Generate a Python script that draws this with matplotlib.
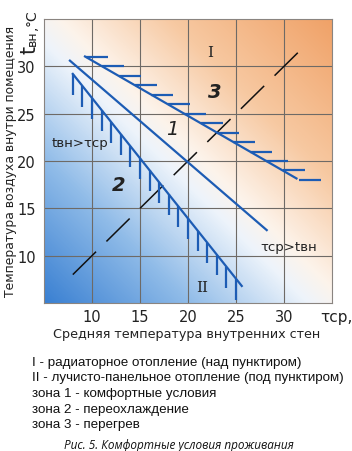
import numpy as np
import matplotlib

matplotlib.use("Agg")
import matplotlib.pyplot as plt
from matplotlib.colors import LinearSegmentedColormap

plt.rcParams["lines.scale_dashes"] = False

# --- data ---
ticks = [10, 15, 20, 25, 30]
lims = (5, 35)

# zone 3 boundary (radiator heating, hatched to the right)
upper_x = [9.17, 31.4]
upper_y = [31.1, 18.1]
upper_hatch_y = [31, 30, 29, 28, 27, 26, 25, 24, 23, 22, 21, 20, 19, 18]

# comfort middle line
mid_x = [7.7, 28.2]
mid_y = [30.6, 12.7]

# zone 2 boundary (panel heating, hatched downward)
lower_x = [8.0, 25.6]
lower_y = [29.2, 6.8]
lower_hatch_x = [8, 9, 10, 11, 12, 13, 14, 15, 16, 17, 18, 19, 20, 21, 22, 23, 24, 25]

# t_vn = tau_sr diagonal
diag_x = [8.0, 31.6]
diag_y = [8.0, 31.6]

legend_lines = [
    "I - радиаторное отопление (над пунктиром)",
    "II - лучисто-панельное отопление (под пунктиром)",
    "зона 1 - комфортные условия",
    "зона 2 - переохлаждение",
    "зона 3 - перегрев",
]
caption = "Рис. 5. Комфортные условия проживания"

BLUE = "#1d5cb4"
INK = "#222222"
HATCH_W = 2.3  # hatch length in data units
HATCH_H = 2.2


def line_x_at(y, xs, ys):
    return xs[0] + (y - ys[0]) * (xs[1] - xs[0]) / (ys[1] - ys[0])


def line_y_at(x, xs, ys):
    return ys[0] + (x - xs[0]) * (ys[1] - ys[0]) / (xs[1] - xs[0])


fig = plt.figure(figsize=(3.52, 4.52), dpi=100)
ax = fig.add_axes([44 / 352, 1 - 304 / 452, 288 / 352, 284 / 452])

# background gradient: blue (cold) -> white -> orange (warm) along x+y
cmap = LinearSegmentedColormap.from_list(
    "warmcold",
    [(0.0, "#3a80d2"), (0.25, "#8fbbe8"), (0.46, "#eef4fb"), (0.53, "#fdf3ea"),
     (0.72, "#f7c9a2"), (1.0, "#f0a268")],
)
gx, gy = np.meshgrid(np.linspace(5, 35, 200), np.linspace(5, 35, 200))
ax.imshow(gx + gy, extent=(5, 35, 5, 35), origin="lower", cmap=cmap,
          vmin=10, vmax=70, aspect="auto", zorder=0, interpolation="bilinear")

ax.set_xlim(*lims)
ax.set_ylim(*lims)
ax.set_xticks(ticks)
ax.set_yticks(ticks)
ax.tick_params(length=0, labelsize=10.5, colors=INK)
ax.tick_params(axis="x", pad=4)
ax.tick_params(axis="y", pad=6)
ax.grid(True, color="#6e6a66", lw=0.8, zorder=1)
for sp in ax.spines.values():
    sp.set_color("#8a8480")
    sp.set_linewidth(0.8)

# lines
ax.plot(upper_x, upper_y, color=BLUE, lw=1.6, zorder=3, solid_capstyle="butt")
for hy in upper_hatch_y:
    hx = line_x_at(hy, upper_x, upper_y)
    ax.plot([hx, hx + HATCH_W], [hy, hy], color=BLUE, lw=1.6, zorder=3,
            solid_capstyle="butt")

ax.plot(mid_x, mid_y, color=BLUE, lw=1.6, zorder=3)

ax.plot(lower_x, lower_y, color=BLUE, lw=1.6, zorder=3)
for hx in lower_hatch_x:
    hy = line_y_at(hx, lower_x, lower_y)
    ax.plot([hx, hx], [hy, hy - HATCH_H], color=BLUE, lw=1.6, zorder=3,
            solid_capstyle="butt")

ax.plot(diag_x, diag_y, color="#111111", lw=1.1, zorder=2,
        dashes=(23.5, 10.5))

# zone labels
ax.text(22.3, 31.5, "I", family="DejaVu Serif", fontsize=11,
        ha="center", va="center", color=INK, zorder=4)
ax.text(21.5, 6.7, "II", family="DejaVu Serif", fontsize=11,
        ha="center", va="center", color=INK, zorder=4)
ax.text(22.8, 27.3, "3", fontsize=14, fontstyle="italic", fontweight="bold",
        ha="center", va="center", color=INK, zorder=4)
ax.text(18.4, 23.4, "1", fontsize=14, fontstyle="italic",
        ha="center", va="center", color=INK, zorder=4)
ax.text(12.8, 17.5, "2", fontsize=14, fontstyle="italic", fontweight="bold",
        ha="center", va="center", color=INK, zorder=4)
ax.text(5.8, 22.0, "tвн>τср", fontsize=9.5, ha="left", va="center",
        color=INK, zorder=4)
ax.text(27.5, 11.0, "τср>tвн", fontsize=9.5, ha="left", va="center",
        color=INK, zorder=4)

# axis titles
fig.text(320 / 352, 1 - 318 / 452, "τср,", fontsize=11, ha="left", va="center",
         color=INK)
fig.text(187 / 352, 1 - 335 / 452, "Средняя температура внутренних стен",
         fontsize=9.2, ha="center", va="center", color=INK)
fig.text(11 / 352, 1 - 161 / 452, "Температура воздуха внутри помещения",
         fontsize=8.9, rotation=90, ha="center", va="center", color=INK)

# rotated "t вн, °C": pieces share one baseline, stacked upward
renderer = fig.canvas.get_renderer()
base_x = 36 / 352
y_px = 54
for piece, size in [("t", 15), ("вн", 9), (",", 10), ("°C", 10)]:
    t = fig.text(base_x, 1 - y_px / 452, piece, fontsize=size, rotation=90,
                 rotation_mode="anchor", ha="left", va="baseline", color=INK)
    bb = t.get_window_extent(renderer)
    y_px -= bb.height

# legend / caption
for i, txt in enumerate(legend_lines):
    fig.text(32 / 352, 1 - (363 + i * 15.5) / 452, txt, family="Liberation Sans",
             fontsize=9.6, ha="left", va="center", color="#111111")
fig.text(179 / 352, 1 - 446 / 452, caption, family="Open Sans", fontstyle="italic",
         fontsize=8.5, ha="center", va="center", color="#111111")

fig.savefig("out.png", dpi=100)
